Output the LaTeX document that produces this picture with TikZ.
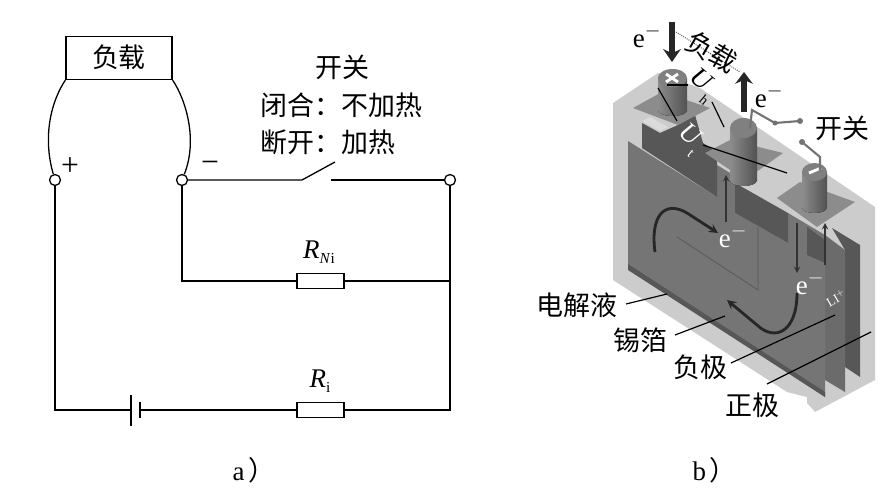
\documentclass[tikz,border=0pt]{standalone}
\usepackage{fontspec}
\usetikzlibrary{arrows.meta}
\setmainfont{Liberation Serif}
\newfontfamily\cjk{Noto Sans CJK SC}
\definecolor{casegray}{gray}{0.80}
\definecolor{plategray}{gray}{0.46}
\definecolor{midgray}{gray}{0.42}
\definecolor{backgray}{gray}{0.34}
\definecolor{tabgray}{gray}{0.55}
\definecolor{cylhi}{gray}{0.55}
\definecolor{cyllo}{gray}{0.32}
\definecolor{cyltop}{gray}{0.50}
\tikzset{
    term/.style={draw, circle, fill=white, inner sep=0pt, minimum size=11*0.8536pt},
    res/.style={draw, fill=white, inner sep=0pt, minimum width=47*0.8536pt, minimum height=15*0.8536pt},
    zh/.style={font=\fontsize{23}{26}\selectfont\cjk, inner sep=0pt},
    lat/.style={font=\fontsize{23}{26}\selectfont, inner sep=0pt},
    leader/.style={draw, line width=1pt, black},
    wire/.style={draw, line width=1.8pt, black!55, line cap=round},
    thinarrow/.style={->, line width=1.4pt, black!80},
    curvearrow/.style={->, line width=2.4pt, black!85},
}
\begin{document}
\begin{tikzpicture}[>=stealth, x=0.03cm, y=-0.03cm, line width=1.1pt]
    \useasboundingbox (0,0) rectangle (882,504);
    % a) circuit
    \node[draw, minimum width=106*0.8536pt, minimum height=43*0.8536pt, inner sep=0pt] (load) at (119,58) {};
    \node[zh] (loadtext) at (119,57) {负载};
    \node[term] (plus) at (55,180) {};
    \node[term] (minus) at (182,180) {};
    \node[term] (right) at (450,180) {};
    \node[res] (rni) at (320.5,281) {};
    \node[res] (ri) at (320.5,410) {};
    \coordinate (swa) at (302,180);
    \coordinate (swb) at (335,162);
    \coordinate (swc) at (331,180);
    \coordinate (bl) at (55,410);
    \coordinate (br) at (450,410);
    \coordinate (ml) at (182,281);
    \coordinate (mr) at (450,281);
    \coordinate (cella) at (131,410);
    \coordinate (cellb) at (140,410);
    \draw (load.south west) .. controls (52,100) and (42,135) .. (plus);
    \draw (load.south east) .. controls (186,100) and (198,140) .. (minus);
    \draw (minus) -- (swa) -- (swb);
    \draw (swc) -- (right);
    \draw (right) -- (br) -- (ri) -- (cellb);
    \draw (cella) -- (bl) -- (plus);
    \draw (minus) -- (ml) -- (rni) -- (mr);
    \draw ([yshift=13pt]cella) -- ([yshift=-13.5pt]cella);
    \draw ([yshift=6.5pt]cellb) -- ([yshift=-6.5pt]cellb);
    \node[font=\fontsize{27}{28}\selectfont] (plussign) at (70,167) {+};
    \node[font=\fontsize{27}{28}\selectfont] (minussign) at (210,167) {−};
    \node[zh] (swtext) at (342,67) {开关};
    \node[zh, anchor=west] (swclose) at (260,105) {闭合：不加热};
    \node[zh, anchor=west] (swopen) at (260,142) {断开：加热};
    \node[lat] (rnitext) at (319,252) {\textit{R}\raisebox{-0.4ex}{\fontsize{13}{14}\selectfont\textit{N}i}};
    \node[lat] (ritext) at (320,381) {\textit{R}\raisebox{-0.4ex}{\fontsize{13}{14}\selectfont i}};
    \node[lat, anchor=west] (capa) at (232,470) {a\hspace{3pt}{\cjk ）}};
    \node[lat, anchor=west] (capb) at (692,470) {b\hspace{3pt}{\cjk ）}};
    % b) battery
    \fill[casegray] (613,103) -- (658,73) -- (700,88) -- (875,207) -- (875,380) -- (815,412) -- (807,403) -- (807,397)
        -- (787,392) -- (613,280) -- cycle;
    % plates, back to front
    \fill[backgray] (832,228) -- (860,245) -- (860,377) -- (845,367) -- (845,250) -- cycle;
    \fill[midgray] (825,235) -- (845,250) -- (845,392) -- (825,380) -- cycle;
    \fill[plategray] (628,141) -- (717,197) -- (717,165) -- (735,176) -- (735,213) -- (788,243) -- (788,213)
        -- (825,235) -- (825,397) -- (628,268) -- cycle;
    \fill[backgray] (628,264) -- (825,392) -- (825,397) -- (628,270) -- cycle;
    \fill[backgray] (642,123) -- (660,133) -- (678,125) -- (695,115) -- (703,143) -- (717,152) -- (717,197) -- (642,148) -- cycle;
    \fill[backgray] (735,183) -- (788,213) -- (788,243) -- (735,213) -- cycle;
    \fill[backgray] (807,227) -- (825,240) -- (825,263) -- (807,255) -- cycle;
    \fill[casegray!70] (642,121) -- (660,131) -- (668,127) -- (650,117) -- cycle;
    \draw[backgray, line width=0.6pt] (677,237) -- (758,290) -- (758,227);
    \foreach \ax/\ay/\bx/\by/\cx/\cy/\dx/\dy in {633/108/662/92/710/108/678/125, 705/153/730/140/783/153/745/180, 777/198/800/182/855/202/817/227} {
        \fill[tabgray] (\ax,\ay) -- (\bx,\by) -- (\cx,\cy) -- (\dx,\dy) -- cycle;
    };
    \foreach \cl/\cr/\ct/\cb/\ry in {658/687/78/110/9, 730/757/128/180/10, 802/827/172/207/9} {
        \fill[left color=cylhi, right color=cyllo] (\cl,\ct) rectangle (\cr,\cb);
        \fill[left color=cylhi, right color=cyllo] (\cl,\cb) .. controls (\cl,\cb+8) and (\cr,\cb+8) .. (\cr,\cb) -- cycle;
        \fill[cyltop] ({(\cl+\cr)/2},\ct) ellipse [x radius={(\cr-\cl)/2}, y radius=\ry];
    };
    \draw[white, line width=2.4pt] (666,74) -- (678,82) (666,82) -- (678,74);
    \draw[white, line width=2.4pt] (809,173) -- (821,168);
    % wires
    \draw[wire] (750,128) -- (752,110) -- (775,123) -- (800,121);
    \draw[wire] (802,142) -- (820,157) -- (820,170);
    \fill[black!55] (775,123) circle [radius=2.5] (800,121) circle [radius=3] (802,142) circle [radius=3];
    % arrows
    \draw[densely dotted, thick, black!70] (676,32) -- (740,72);
    \draw[-{Stealth[length=11pt,width=15pt]}, line width=5.5pt, black!85] (672,22) -- (672,62);
    \draw[-{Stealth[length=10pt,width=15pt]}, line width=4.5pt, black!85] (744,112) -- (744,72);
    \draw[thinarrow] (726,222) -- (726,175);
    \draw[thinarrow] (797,223) -- (797,273);
    \draw[thinarrow] (825,265) -- (825,223);
    \draw[curvearrow] (655,252) .. controls (650,215) and (665,200) .. (687,213) -- (718,233);
    \draw[curvearrow] (797,293) .. controls (797,332) and (775,342) .. (757,325) -- (727,300);
    % labels of b)
    \node[zh, rotate=-30] (loadb) at (712,52) {负载};
    \node[lat] (e1) at (647,36) {e$^{-}$};
    \node[lat] (e2) at (769,96) {e$^{-}$};
    \node[lat, white] (e3) at (733,236) {e$^{-}$};
    \node[lat, white] (e4) at (810,283) {e$^{-}$};
    \node[font=\fontsize{11}{12}\selectfont, white, rotate=30, inner sep=0pt] (li) at (836,298) {LI$^{+}$};
    \node[lat, rotate=-40] (uh) at (702,86) {\textit{U}\raisebox{-0.8ex}{\fontsize{12}{13}\selectfont h}};
    \node[lat, rotate=-40, white] (ut) at (689,140) {\textit{U}\raisebox{-0.8ex}{\fontsize{12}{13}\selectfont t}};
    \node[zh] (swlabel) at (842,128) {开关};
    \node[zh] (elec) at (577,305) {电解液};
    \node[zh] (foil) at (640,340) {锡箔};
    \node[zh] (neg) at (700,367) {负极};
    \node[zh] (pos) at (752,405) {正极};
    \coordinate (uha) at (667,85);
    \coordinate (uhb) at (688,85);
    \coordinate (uhc) at (712,102);
    \coordinate (uhd) at (724,127);
    \coordinate (uta) at (658,88);
    \coordinate (utb) at (677,121);
    \coordinate (utc) at (703,145);
    \coordinate (utd) at (787,173);
    \coordinate (elecb) at (626,304);
    \coordinate (foilb) at (675,335);
    \coordinate (negb) at (731,363);
    \coordinate (posb) at (767,384);
    \coordinate (eleca) at (667,294);
    \coordinate (foila) at (725,316);
    \coordinate (nega) at (835,315);
    \coordinate (posa) at (871,332);
    \draw[leader] (uha) -- (uhb);
    \draw[leader] (uhc) -- (uhd);
    \draw[leader] (uta) -- (utb);
    \draw[leader] (utc) -- (utd);
    \draw[leader] (elecb) -- (eleca);
    \draw[leader] (foilb) -- (foila);
    \draw[leader] (negb) -- (nega);
    \draw[leader] (posb) -- (posa);
\end{tikzpicture}
\end{document}
